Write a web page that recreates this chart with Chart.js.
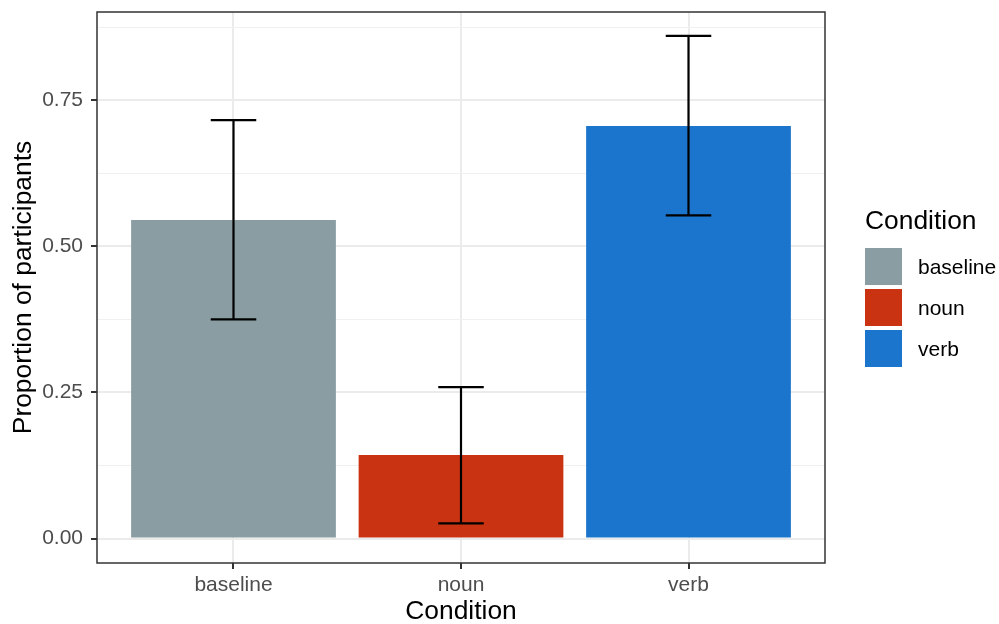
<!DOCTYPE html>
<html>
<head>
<meta charset="utf-8">
<script src="https://cdn.jsdelivr.net/npm/chart.js@4.4.0/dist/chart.umd.min.js"></script>
<style>
  body { margin: 0; background: #fff; }
  #wrap { position: relative; width: 999px; height: 624px; font-family: "Liberation Sans", Arial, sans-serif; }
  #legend { position: absolute; left: 865px; top: 202px; }
  #legend .ttl { font-size: 26.4px; color: #000; height: 44px; line-height: 36px; }
  #legend .row { display: flex; align-items: center; height: 41px; }
  #legend .key { width: 37px; height: 37px; margin-right: 16px; }
  #legend .lbl { font-size: 21px; color: #000; }
</style>
</head>
<body>
<div id="wrap">
  <canvas id="c" width="999" height="624"></canvas>
  <div id="legend"></div>
</div>
<script>
// data
const categories = ['baseline', 'noun', 'verb'];
const proportions = [0.545, 0.143, 0.706];
const ciLower = [0.375, 0.026, 0.553];
const ciUpper = [0.716, 0.259, 0.860];
const barColors = ['#8A9DA3', '#C93312', '#1C75CC'];
const yTicks = [0, 0.125, 0.25, 0.375, 0.5, 0.625, 0.75, 0.875];

const isMajor = v => Math.abs(v * 4 - Math.round(v * 4)) < 1e-6;

// error bars + panel border
const extras = {
  id: 'extras',
  afterDatasetsDraw(chart) {
    const { ctx, scales: { x, y } } = chart;
    ctx.save();
    ctx.strokeStyle = '#000';
    ctx.lineWidth = 2.2;
    categories.forEach((c, i) => {
      const cx = x.getPixelForValue(i + 1);
      const half = x.getPixelForValue(i + 1.1) - cx;
      const yl = y.getPixelForValue(ciLower[i]);
      const yu = y.getPixelForValue(ciUpper[i]);
      ctx.beginPath();
      ctx.moveTo(cx, yl); ctx.lineTo(cx, yu);
      ctx.moveTo(cx - half, yl); ctx.lineTo(cx + half, yl);
      ctx.moveTo(cx - half, yu); ctx.lineTo(cx + half, yu);
      ctx.stroke();
    });
    ctx.restore();
  },
  afterDraw(chart) {
    const { ctx, chartArea: a } = chart;
    ctx.save();
    ctx.strokeStyle = '#333333';
    ctx.lineWidth = 1.5;
    ctx.strokeRect(a.left, a.top, a.right - a.left, a.bottom - a.top);
    ctx.restore();
  }
};

new Chart(document.getElementById('c'), {
  type: 'bar',
  data: {
    datasets: [{
      data: proportions.map((v, i) => ({ x: i + 1, y: v })),
      backgroundColor: barColors,
      borderWidth: 0,
      grouped: false,
      barPercentage: 1,
      categoryPercentage: 0.9
    }]
  },
  options: {
    responsive: false,
    animation: false,
    layout: { padding: { top: 12, right: 174, left: 0, bottom: 0 } },
    plugins: { legend: { display: false }, tooltip: { enabled: false } },
    scales: {
      x: {
        type: 'linear',
        offset: false,
        min: 0.4, max: 3.6,
        afterBuildTicks: s => { s.ticks = categories.map((c, i) => ({ value: i + 1 })); },
        afterFit: s => { s.height = 61; s.paddingLeft = 0; s.paddingRight = 0; },
        ticks: {
          callback: v => categories[v - 1],
          color: '#4D4D4D',
          font: { family: 'Liberation Sans', size: 21 },
          padding: 4,
          maxRotation: 0
        },
        grid: { offset: false, color: '#EBEBEB', lineWidth: 2, tickColor: '#333333', tickLength: 6, tickWidth: 2 },
        border: { display: false },
        title: {
          display: true, text: 'Condition', color: '#000',
          font: { family: 'Liberation Sans', size: 26.4 },
          padding: { top: 0, bottom: -4 }
        }
      },
      y: {
        min: -0.0418, max: 0.901,
        afterBuildTicks: s => { s.ticks = yTicks.map(v => ({ value: v })); },
        afterFit: s => { s.width = 97; s.paddingTop = 0; s.paddingBottom = 0; },
        ticks: {
          callback: v => isMajor(v) ? v.toFixed(2) : '',
          color: '#4D4D4D',
          font: { family: 'Liberation Sans', size: 21 },
          padding: 8
        },
        grid: {
          color: c => isMajor(c.tick.value) ? '#EBEBEB' : '#F0F0F0',
          lineWidth: c => isMajor(c.tick.value) ? 2 : 1,
          tickColor: c => isMajor(c.tick.value) ? '#333333' : 'rgba(0,0,0,0)',
          tickLength: 6, tickWidth: 2
        },
        border: { display: false },
        title: {
          display: true, text: 'Proportion of participants', color: '#000',
          font: { family: 'Liberation Sans', size: 26.4 },
          padding: { top: 8, bottom: 0 }
        }
      }
    }
  },
  plugins: [extras]
});

// legend
const lg = document.getElementById('legend');
lg.innerHTML = '<div class="ttl">Condition</div>' + categories.map((c, i) =>
  `<div class="row"><div class="key" style="background:${barColors[i]}"></div><div class="lbl">${c}</div></div>`
).join('');
</script>
</body>
</html>
